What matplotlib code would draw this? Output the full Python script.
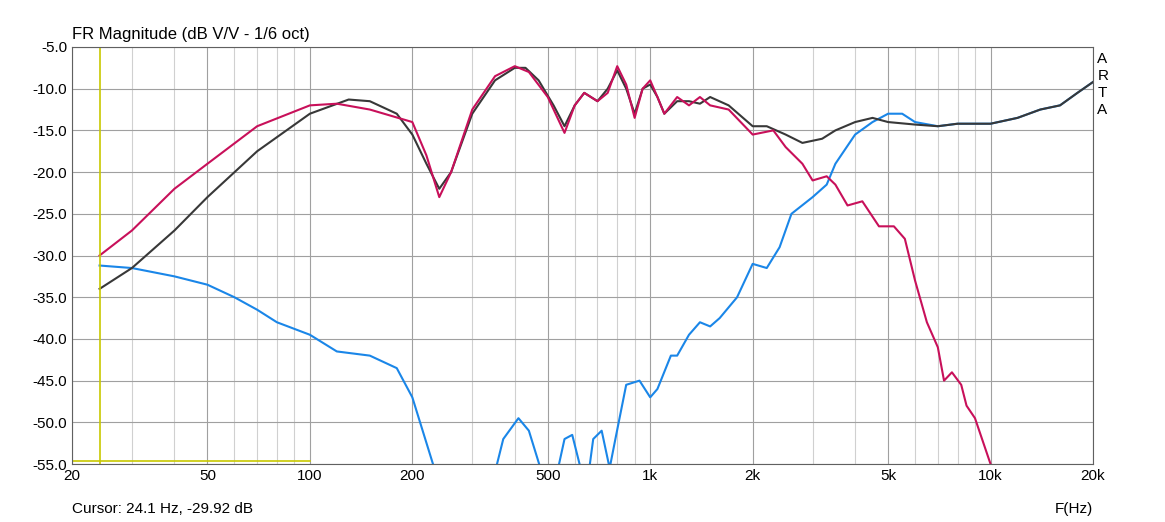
import numpy as np
import matplotlib.pyplot as plt
from matplotlib.ticker import FixedLocator, NullFormatter

# sum response (black)
f_sum = [24.1, 30, 40, 50, 70, 100, 130, 150, 180, 200, 220, 240, 260, 300, 350, 400, 430, 470, 520, 560,
         600, 640, 700, 750, 800, 850, 900, 950, 1000, 1050, 1100, 1200, 1300, 1400, 1500, 1700, 2000, 2200,
         2500, 2800, 3200, 3500, 4000, 4500, 5000, 6000, 7000, 8000, 10000, 12000, 14000, 16000, 18000, 20000]
db_sum = [-34, -31.5, -27, -23, -17.5, -13, -11.3, -11.5, -13, -15.5, -19, -22, -20, -13, -9, -7.5, -7.5, -9, -12, -14.5,
          -12, -10.5, -11.5, -10, -7.8, -10, -13, -10, -9.5, -11, -13, -11.5, -11.5, -11.8, -11, -12, -14.5, -14.5,
          -15.5, -16.5, -16, -15, -14, -13.5, -14, -14.3, -14.5, -14.2, -14.2, -13.5, -12.5, -12, -10.5, -9.2]

# woofer (red)
f_woof = [24.1, 30, 40, 50, 70, 100, 120, 150, 200, 220, 240, 260, 300, 350, 400, 440, 500, 560, 600, 640,
          700, 750, 800, 850, 900, 950, 1000, 1050, 1100, 1200, 1300, 1400, 1500, 1700, 2000, 2300, 2500, 2800,
          3000, 3300, 3500, 3800, 4200, 4700, 5200, 5600, 6000, 6500, 7000, 7300, 7700, 8200, 8500, 9000, 10000, 10500]
db_woof = [-30, -27, -22, -19, -14.5, -12, -11.8, -12.5, -14, -18, -23, -20, -12.5, -8.5, -7.3, -8, -11, -15.3, -12, -10.5,
           -11.5, -10.5, -7.3, -9.5, -13.5, -10, -9, -11, -13, -11, -12, -11, -12, -12.5, -15.5, -15, -17, -19,
           -21, -20.5, -21.5, -24, -23.5, -26.5, -26.5, -28, -33, -38, -41, -45, -44, -45.5, -48, -49.5, -55, -57]

# tweeter (blue)
f_tw = [24.1, 30, 40, 50, 60, 70, 80, 100, 120, 150, 180, 200, 230, 240, 340, 370, 410, 440, 480, 520,
        560, 590, 620, 650, 680, 720, 760, 790, 850, 930, 1000, 1050, 1150, 1200, 1300, 1400, 1500, 1600,
        1800, 2000, 2200, 2400, 2600, 3000, 3300, 3500, 4000, 4500, 5000, 5500, 6000, 7000, 8000, 10000,
        12000, 14000, 16000, 18000, 20000]
db_tw = [-31.2, -31.5, -32.5, -33.5, -35, -36.5, -38, -39.5, -41.5, -42, -43.5, -47, -55, -58, -58, -52, -49.5, -51, -56, -58,
         -52, -51.5, -55, -58, -52, -51, -55.5, -52, -45.5, -45, -47, -46, -42, -42, -39.5, -38, -38.5, -37.5,
         -35, -31, -31.5, -29, -25, -23, -21.5, -19, -15.5, -14, -13, -13, -14, -14.5, -14.2, -14.2,
         -13.5, -12.5, -12, -10.5, -9.2]

xticks = [20, 50, 100, 200, 500, 1000, 2000, 5000, 10000, 20000]
xlabels = ["20", "50", "100", "200", "500", "1k", "2k", "5k", "10k", "20k"]

plt.rcParams['font.family'] = ['Arial', 'Liberation Sans', 'DejaVu Sans']
fig = plt.figure(figsize=(11.65, 5.22), dpi=100)
ax = fig.add_axes([0.0618, 0.111, 0.8764, 0.799])
ax.set_xscale("log")
ax.set_xlim(20, 20000)
ax.set_ylim(-55, -5)

minor = [m * d for d in (10, 100, 1000, 10000) for m in range(2, 10) if 20 <= m * d <= 20000]
ax.xaxis.set_minor_locator(FixedLocator(minor))
ax.xaxis.set_minor_formatter(NullFormatter())
ax.set_xticks(xticks)
ax.set_xticklabels(xlabels)
ax.set_yticks(np.arange(-55, -4, 5))
ax.set_yticklabels(["%.1f" % v for v in np.arange(-55, -4, 5)])
ax.grid(True, which="major", color="#a0a0a0", lw=0.8)
ax.grid(True, which="minor", color="#d0d0d0", lw=0.8)
ax.tick_params(which="both", length=0, labelsize=11)
for s in ax.spines.values():
    s.set_color("#606060")

ax.plot(f_tw, db_tw, color="#1a86e8", lw=1.5)
ax.plot(f_sum, db_sum, color="#383838", lw=1.5)
ax.plot(f_woof, db_woof, color="#c8105a", lw=1.5)

# cursor
ax.axvline(24.1, color="#c8c800", lw=1.2)
ax.plot([20, 100], [-54.6, -54.6], color="#c8c800", lw=1.2)

fig.text(0.0618, 0.925, "FR Magnitude (dB V/V - 1/6 oct)", fontsize=12)
fig.text(0.0618, 0.018, "Cursor: 24.1 Hz, -29.92 dB", fontsize=11)
fig.text(0.905, 0.018, "F(Hz)", fontsize=11)
for i, ch in enumerate("ARTA"):
    fig.text(0.942, 0.88 - i * 0.033, ch, fontsize=11)

fig.savefig("out.png")
